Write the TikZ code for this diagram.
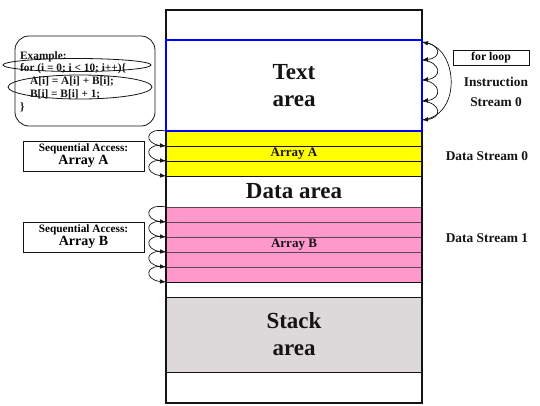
\documentclass[tikz,border=0pt]{standalone}
\usepackage{fontspec}
\setmainfont{Liberation Serif}
\usetikzlibrary{arrows.meta,calc}
\definecolor{memInk}{RGB}{20,20,20}
\definecolor{memYellow}{RGB}{255,255,0}
\definecolor{memPink}{RGB}{255,153,204}
\definecolor{memStack}{RGB}{221,216,218}
\definecolor{memBlue}{RGB}{0,0,255}
\definecolor{memRule}{RGB}{95,70,82}
\tikzset{
  mtitle/.style={font=\bfseries\fontsize{23}{27}\selectfont, text=memInk,
    align=center},
  mlabel/.style={font=\bfseries\fontsize{13}{15}\selectfont, text=memInk,
    align=center, inner sep=0pt},
  mside/.style={font=\bfseries\fontsize{13.4}{20}\selectfont, text=memInk,
    align=center, inner sep=0pt},
  mbox/.style={draw=memInk, line width=.8pt, align=center, inner sep=0pt},
  curl/.style={-{Latex[length=6pt,width=4.6pt]}, line width=.7pt,
    draw=memInk}
}
\begin{document}
\begin{tikzpicture}[x=1pt, y=-1pt,
  cell/.style={draw=memInk, line width=.9pt, minimum width=256pt,
    inner sep=0pt, outer sep=0pt, anchor=north west},
  arow/.style={cell, fill=memYellow, minimum height=15pt, mlabel},
  brow/.style={cell, draw=memRule, fill=memPink, minimum height=15pt,
    mlabel}
]
\path[use as bounding box] (0,0) rectangle (540,405);

% memory column
\node[cell, minimum height=30pt] (top) at (166,10) {};
\node[arow] (a1) at (166,131) {};
\node[arow] (a2) at (166,146) {Array A};
\node[arow] (a3) at (166,161) {};
\node[cell, minimum height=31pt, mtitle] (data) at (166,176) {Data area};
\node[brow] (b1) at (166,207) {};
\node[brow] (b2) at (166,222) {};
\node[brow] (b3) at (166,237) {Array B};
\node[brow] (b4) at (166,252) {};
\node[brow] (b5) at (166,267) {};
\node[cell, minimum height=15pt] (gap) at (166,282) {};
\node[cell, fill=memStack, minimum height=75pt, mtitle] (stack) at (166,297)
  {Stack\\area};
\node[cell, minimum height=31pt] (bottom) at (166,372) {};
\draw[line width=1.6pt, draw=memInk] (top.north west) rectangle (bottom.south east);
\node[cell, draw=memBlue, line width=2pt, fill=white, minimum height=91pt,
  mtitle] (text) at (166,40) {Text\\area};

% loop example
\node[mbox, rounded corners=14pt, minimum width=140pt, minimum height=90pt]
  (example) at (85,81) {};
\node[anchor=north west, align=left, inner sep=0pt,
  font=\bfseries\fontsize{11.3}{12.9}\selectfont, text=memInk] (code) at (20,51)
  {Example:\\for (i = 0; i < 10; i++)\{\\
   \hspace*{10pt}A[i] = A[i] + B[i];\\
   \hspace*{10pt}B[i] = B[i] + 1;\\\}};
\draw[line width=.8pt, draw=memInk] (77,65) ellipse [x radius=74pt, y radius=6.5pt];
\draw[line width=.8pt, draw=memInk] (80,87) ellipse [x radius=72pt, y radius=12pt];

% instruction stream
\node[mbox, minimum width=76pt, minimum height=15pt,
  font=\bfseries\fontsize{11.8}{13}\selectfont] (loop) at (491,57.5) {for loop};
\node[mside] (istream) at (496,92) {Instruction\\Stream 0};
\coordinate (i0) at (422,42);
\coordinate (i1) at (422,60);
\coordinate (i2) at (422,80);
\coordinate (i3) at (422,101);
\coordinate (i4) at (422,120);
\draw[curl] (i0) .. controls +(20,2) and +(20,-2) .. (i1);
\draw[curl] (i1) .. controls +(20,2) and +(20,-2) .. (i2);
\draw[curl] (i2) .. controls +(20,2) and +(20,-2) .. (i3);
\draw[curl] (i3) .. controls +(20,2) and +(20,-2) .. (i4);
\draw[curl] (i4) .. controls +(40,-4) and +(36,8) .. (i0);

% data streams
\node[mside] (dstream0) at (487,156) {Data Stream 0};
\node[mside] (dstream1) at (487,238) {Data Stream 1};

\node[mbox, minimum width=121pt, minimum height=30pt,
  font=\bfseries\fontsize{11.3}{13}\selectfont] (seqA) at (83.5,156)
  {Sequential Access:\\{\fontsize{14}{14}\selectfont Array A}};
\node[mbox, minimum width=121pt, minimum height=30pt,
  font=\bfseries\fontsize{11.3}{13}\selectfont] (seqB) at (83.5,237)
  {Sequential Access:\\{\fontsize{14}{14}\selectfont Array B}};

\draw[curl] (a1.north west) .. controls +(-22,-4) and +(-22,-2) .. (a1.south west);
\draw[curl] (a2.north west) .. controls +(-22,-4) and +(-22,-2) .. (a2.south west);
\draw[curl] (a3.north west) .. controls +(-22,-4) and +(-22,-2) .. (a3.south west);
\draw[curl] (b1.north west) .. controls +(-22,-4) and +(-22,-2) .. (b1.south west);
\draw[curl] (b2.north west) .. controls +(-22,-4) and +(-22,-2) .. (b2.south west);
\draw[curl] (b3.north west) .. controls +(-22,-4) and +(-22,-2) .. (b3.south west);
\draw[curl] (b4.north west) .. controls +(-22,-4) and +(-22,-2) .. (b4.south west);
\draw[curl] (b5.north west) .. controls +(-22,-4) and +(-22,-2) .. (b5.south west);
\end{tikzpicture}
\end{document}
